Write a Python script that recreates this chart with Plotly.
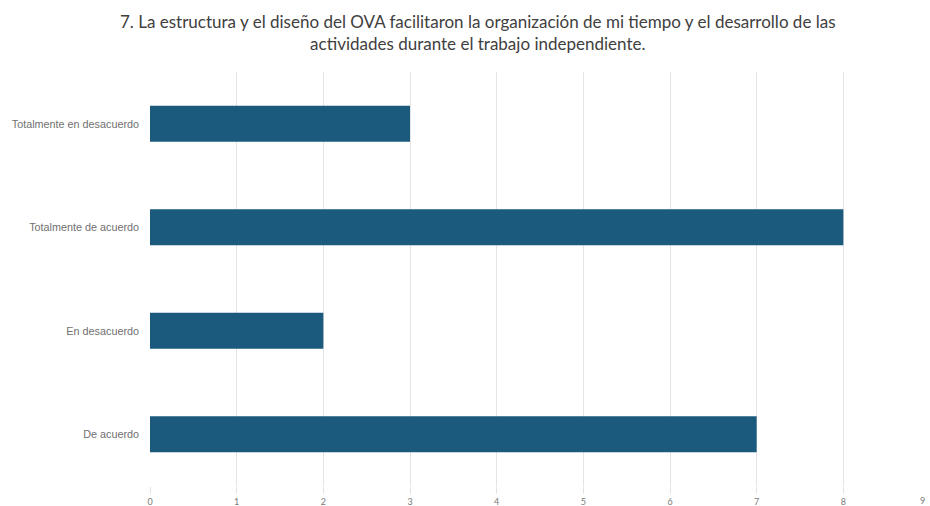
import plotly.graph_objects as go

# Survey responses for question 7
categories = [
    "Totalmente en desacuerdo",
    "Totalmente de acuerdo",
    "En desacuerdo",
    "De acuerdo",
]
counts = [3, 8, 2, 7]
x_ticks = [0, 1, 2, 3, 4, 5, 6, 7, 8, 9]

title_text = (
    "7. La estructura y el diseño del OVA facilitaron la organización de mi tiempo y el desarrollo de las"
    "<br>actividades durante el trabajo independiente."
)

fig = go.Figure(
    go.Bar(
        x=counts,
        y=categories,
        orientation="h",
        marker=dict(color="#1b5a7d", line=dict(width=0)),
        hoverinfo="x+y",
    )
)

fig.update_layout(
    width=930,
    height=506,
    paper_bgcolor="white",
    plot_bgcolor="white",
    margin=dict(l=150, r=0, t=72, b=20),
    bargap=0.65,
    showlegend=False,
)

# Two-line heading placed above the plotting area
fig.add_annotation(
    text=title_text,
    xref="paper",
    yref="paper",
    x=0.421,
    y=1.152,
    xanchor="center",
    yanchor="top",
    align="center",
    showarrow=False,
    font=dict(family="Lato", size=17, color="#404040"),
)

# The last tick label sits on the right edge; keep it visible
fig.add_annotation(
    text=str(x_ticks[-1]),
    xref="x",
    yref="paper",
    x=x_ticks[-1],
    y=-0.034,
    xanchor="right",
    yanchor="middle",
    xshift=-3,
    showarrow=False,
    font=dict(family="Lato", size=9, color="#7a7a7a"),
)

fig.update_xaxes(
    range=[0, 9],
    tickvals=x_ticks,
    showgrid=True,
    gridcolor="#e3e3e3",
    gridwidth=1,
    zeroline=False,
    showline=False,
    ticks="outside",
    ticklen=7,
    tickcolor="#e3e3e3",
    tickfont=dict(family="Lato", size=9, color="#7a7a7a"),
)

fig.update_yaxes(
    categoryorder="array",
    categoryarray=categories,
    autorange="reversed",
    showgrid=False,
    zeroline=False,
    showline=False,
    ticks="",
    ticklabelstandoff=10,
    tickfont=dict(family="Liberation Sans", size=10.8, color="#707070"),
)

fig.write_html("out.html")
